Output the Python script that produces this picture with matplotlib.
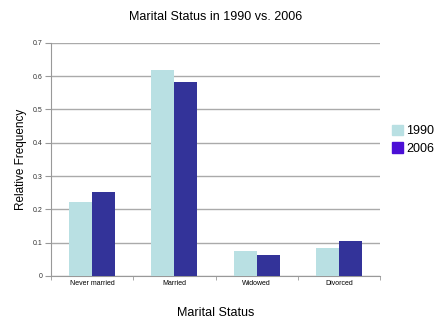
import matplotlib
matplotlib.use("Agg")
import matplotlib.pyplot as plt
from matplotlib.patches import Patch
import numpy as np

categories = ["Never married", "Married", "Widowed", "Divorced"]
series_1990 = [0.222, 0.619, 0.075, 0.084]
series_2006 = [0.252, 0.583, 0.063, 0.105]
yticks = [0, 0.1, 0.2, 0.3, 0.4, 0.5, 0.6, 0.7]

plt.rcParams['font.family'] = ['Liberation Sans', 'DejaVu Sans']

fig = plt.figure(figsize=(4.36, 3.2), dpi=100)
ax = fig.add_axes([0.117, 0.1375, 0.755, 0.729])

x = np.arange(len(categories))
w = 0.28
ax.bar(x - w/2, series_1990, w, color="#B9E0E3", zorder=3)
ax.bar(x + w/2, series_2006, w, color="#333399", zorder=3)

ax.set_xlim(-0.5, len(categories) - 0.5)
ax.set_ylim(0, 0.7)
ax.set_yticks(yticks)
ax.set_yticklabels([f"{v:g}" for v in yticks], fontsize=5, color="#333333")
ax.set_xticks(x)
ax.set_xticklabels(categories, fontsize=5, color="#000000")
ax.set_xticks(np.arange(len(categories) + 1) - 0.5, minor=True)
ax.tick_params(axis='x', which='major', length=0, pad=3)
ax.tick_params(axis='x', which='minor', length=3, color="#999999", direction='out')
ax.tick_params(axis='y', length=4, color="#999999", direction='out', pad=2)

ax.grid(axis='y', color="#aaaaaa", linewidth=1.0, zorder=0)
for s in ['top', 'right']:
    ax.spines[s].set_visible(False)
ax.spines['left'].set_color("#999999")
ax.spines['bottom'].set_color("#999999")

ax.set_title("Marital Status in 1990 vs. 2006", fontsize=9, pad=16)
ax.set_ylabel("Relative Frequency", fontsize=8.5, labelpad=4)
ax.set_xlabel("Marital Status", fontsize=9, labelpad=14)

handles = [Patch(color="#B9E0E3", label="1990"), Patch(color="#4B0FD6", label="2006")]
fig.legend(handles=handles, loc='upper left', bbox_to_anchor=(0.885, 0.63),
           frameon=False, fontsize=9, handlelength=0.9, handleheight=0.9,
           handletextpad=0.2, labelspacing=0.4, borderpad=0)

fig.savefig("out.png", dpi=100)
